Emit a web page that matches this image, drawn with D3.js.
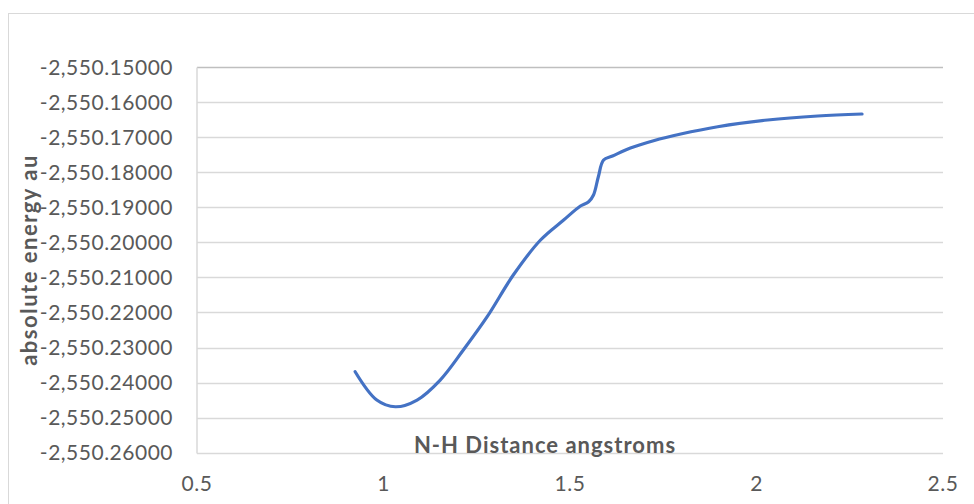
<!DOCTYPE html>
<html>
<head>
<meta charset="utf-8">
<script src="https://cdn.jsdelivr.net/npm/d3@7"></script>
<style>
  body { margin: 0; background: #fff; }
  text { font-family: Lato, "Open Sans", sans-serif; fill: #595959; }
</style>
</head>
<body>
<div class="chart"></div>
<script>
// values
var distances = [0.924, 0.982, 1.032, 1.090, 1.152, 1.214, 1.278, 1.348, 1.421, 1.483, 1.528,
  1.550, 1.563, 1.576, 1.590, 1.614, 1.662, 1.724, 1.797, 1.896, 2.030, 2.164, 2.283];
var energies = [-2550.23691, -2550.24498, -2550.24690, -2550.24498, -2550.23928, -2550.23072,
  -2550.22122, -2550.20933, -2550.19934, -2550.19364, -2550.18965, -2550.18842, -2550.18651,
  -2550.18129, -2550.17653, -2550.17539, -2550.17310, -2550.17102, -2550.16911, -2550.16703,
  -2550.16512, -2550.16398, -2550.16341];
var xTicks = [0.5, 1, 1.5, 2, 2.5];
var yTicks = [-2550.15, -2550.16, -2550.17, -2550.18, -2550.19, -2550.20, -2550.21,
  -2550.22, -2550.23, -2550.24, -2550.25, -2550.26];

var opts = {
  width: 974,
  height: 504,
  left: 197,
  right: 943,
  top: 67,
  bottom: 452.7
};

var locale = d3.formatLocale({decimal: '.', thousands: ',', grouping: [3], currency: ['', ''], minus: '-'});
var fmtY = locale.format(',.5f');

var x = d3.scaleLinear().domain([0.5, 2.5]).range([opts.left, opts.right]);
var y = d3.scaleLinear().domain([-2550.26, -2550.15]).range([opts.bottom, opts.top]);

var svg = d3.select('.chart').append('svg')
  .attr('width', opts.width).attr('height', opts.height);

// chart area border
svg.append('rect')
  .attr('x', 8.5).attr('y', 13.5).attr('width', 1000).attr('height', 600)
  .attr('fill', 'none').attr('stroke', '#d9d9d9').attr('stroke-width', 1);

// gridlines
svg.append('g').selectAll('line').data(yTicks).enter().append('line')
  .attr('x1', opts.left).attr('x2', opts.right)
  .attr('y1', d => Math.round(y(d)) + 0.5).attr('y2', d => Math.round(y(d)) + 0.5)
  .attr('stroke', (d, i) => i === 0 ? '#bfbfbf' : '#d9d9d9').attr('stroke-width', 1.5);

// left axis line
svg.append('line')
  .attr('x1', opts.left).attr('x2', opts.left)
  .attr('y1', Math.round(y(-2550.15)) + 0.5).attr('y2', Math.round(y(-2550.26)) + 0.5)
  .attr('stroke', '#d9d9d9').attr('stroke-width', 1.5);

// y tick labels
svg.append('g').selectAll('text').data(yTicks).enter().append('text')
  .attr('x', 173).attr('y', d => y(d)).attr('dy', '0.36em')
  .attr('text-anchor', 'end').style('font-size', '21px').style('letter-spacing', '0.5px')
  .text(d => fmtY(d));

// x tick labels
svg.append('g').selectAll('text').data(xTicks).enter().append('text')
  .attr('x', d => x(d)).attr('y', 491)
  .attr('text-anchor', 'middle').style('font-size', '21px').style('letter-spacing', '0.5px')
  .text(d => d);

// axis titles
svg.append('text')
  .attr('x', 545).attr('y', 453)
  .attr('text-anchor', 'middle').style('font-size', '22px').style('font-weight', 'bold')
  .style('letter-spacing', '1px')
  .text('N-H Distance angstroms');

svg.append('text')
  .attr('transform', 'translate(37,260) rotate(-90)')
  .attr('text-anchor', 'middle').style('font-size', '22px').style('font-weight', 'bold')
  .style('letter-spacing', '1.5px')
  .text('absolute energy au');

// the curve
var points = distances.map((d, i) => ({x: d, y: energies[i]}));
var line = d3.line().x(d => x(d.x)).y(d => y(d.y)).curve(d3.curveCatmullRom.alpha(0.5));

svg.append('path').datum(points)
  .attr('d', line)
  .attr('fill', 'none').attr('stroke', '#4472c4').attr('stroke-width', 3.2)
  .attr('stroke-linecap', 'round').attr('stroke-linejoin', 'round');
</script>
</body>
</html>
